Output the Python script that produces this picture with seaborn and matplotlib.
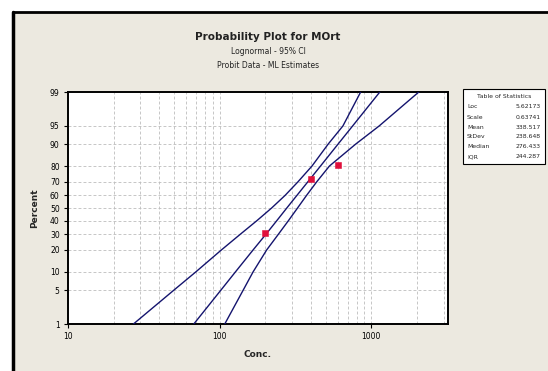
import numpy as np
import matplotlib
matplotlib.use("Agg")
import matplotlib.pyplot as plt
import seaborn as sns
from statistics import NormalDist
from matplotlib.lines import Line2D
from matplotlib.patches import Rectangle

# === Data ===
pct_levels = [1, 5, 10, 20, 30, 40, 50, 60, 70, 80, 90, 95, 99]
fit_conc = [67.5, 102, 127, 166, 202, 238, 277, 323, 381, 462, 603, 752, 1137]
upper_conc = [27.0, 50.0, 69.6, 102.6, 137, 176, 220, 270, 328, 406, 519, 649, 850]
lower_conc = [108, 143, 166, 204, 244, 284, 326, 374, 436, 529, 788, 1125, 2054]

obs_conc = [200, 400, 600]
obs_pct = [30.8, 71.7, 80.4]

y_ticks = [1, 5, 10, 20, 30, 40, 50, 60, 70, 80, 90, 95, 99]
x_ticks = [10, 100, 1000]
x_minor = [20, 30, 40, 50, 60, 70, 80, 90, 200, 300, 400, 500, 600, 700, 800, 900, 2000, 3000]

stat_names = ["Loc", "Scale", "Mean", "StDev", "Median", "IQR"]
stat_values = ["5.62173", "0.63741", "338.517", "238.648", "276.433", "244.287"]

# === Probit scale for the percent axis ===
_nd = NormalDist()
_fwd = np.vectorize(lambda v: _nd.inv_cdf(v / 100.0), otypes=[float])
_inv = np.vectorize(lambda v: 100.0 * _nd.cdf(v), otypes=[float])


def probit(p):
    p = np.clip(np.asarray(p, dtype=float), 1e-6, 100 - 1e-6)
    return _fwd(p)


def inv_probit(z):
    z = np.clip(np.asarray(z, dtype=float), -30, 30)
    return _inv(z)


sns.set_theme(style="ticks")
plt.rcParams["font.family"] = ["DejaVu Sans"]

bg = "#ECE9E0"
line_col = "#14146e"
pt_col = "#e0103c"
grid_col = "#bdbdbd"

fig = plt.figure(figsize=(5.48, 3.71), dpi=100)
fig.patch.set_facecolor("white")

# beige panel with dark border on top and left
fig.patches.append(Rectangle((12 / 548, 0), 1, 1 - 12 / 371, transform=fig.transFigure,
                             facecolor=bg, edgecolor="none", zorder=-10))
fig.add_artist(Line2D([12.5 / 548, 1], [1 - 12 / 371, 1 - 12 / 371], transform=fig.transFigure,
                      color="black", lw=2.0))
fig.add_artist(Line2D([12.5 / 548, 12.5 / 548], [0, 1 - 12 / 371], transform=fig.transFigure,
                      color="black", lw=2.5))

ax = fig.add_axes([68 / 548, 1 - 324 / 371, 380 / 548, 232 / 371])
ax.set_facecolor("white")
ax.set_xscale("log")
ax.set_yscale("function", functions=(probit, inv_probit))
ax.set_xlim(10, 3200)
ax.set_ylim(1, 99)

# grid
for v in x_minor + x_ticks:
    ax.axvline(v, color=grid_col, lw=0.6, ls=(0, (3.5, 2.5)), zorder=0)
for v in y_ticks[1:-1]:
    ax.axhline(v, color=grid_col, lw=0.6, ls=(0, (3.5, 2.5)), zorder=0)

# fitted line and confidence bounds
for series in [upper_conc, fit_conc, lower_conc]:
    sns.lineplot(x=series, y=pct_levels, ax=ax, color=line_col, lw=1.0,
                 estimator=None, sort=False, zorder=3)

sns.scatterplot(x=obs_conc, y=obs_pct, ax=ax, color=pt_col, marker="s", s=13,
                edgecolor=pt_col, linewidth=0.4, zorder=4)

ax.set_xticks(x_ticks)
ax.set_xticklabels([str(t) for t in x_ticks])
ax.xaxis.set_minor_locator(matplotlib.ticker.FixedLocator(x_minor))
ax.xaxis.set_minor_formatter(matplotlib.ticker.NullFormatter())
ax.tick_params(axis="x", which="minor", length=0)
ax.set_yticks(y_ticks)
ax.set_yticklabels([str(t) for t in y_ticks])
ax.yaxis.set_minor_locator(matplotlib.ticker.NullLocator())
ax.tick_params(axis="both", which="major", length=3, width=0.8, pad=3,
               labelsize=5.5, colors="black", direction="out")

for s in ax.spines.values():
    s.set_visible(True)
    s.set_color("black")
    s.set_linewidth(1.4)

ax.set_xlabel("Conc.", fontsize=6.5, fontweight="bold", labelpad=6)
ax.set_ylabel("Percent", fontsize=6.5, fontweight="bold", labelpad=8)

# titles
fig.text(268 / 548, 1 - 37 / 371, "Probability Plot for MOrt", ha="center", va="center",
         fontsize=7.5, fontweight="bold", color="#222222")
fig.text(268 / 548, 1 - 51 / 371, "Lognormal - 95% CI", ha="center", va="center",
         fontsize=5.5, color="#222222")
fig.text(268 / 548, 1 - 65 / 371, "Probit Data - ML Estimates", ha="center", va="center",
         fontsize=5.5, color="#222222")

# table of statistics
fig.patches.append(Rectangle((463 / 548, 1 - 164 / 371), 82 / 548, 75 / 371,
                             transform=fig.transFigure, facecolor="white",
                             edgecolor="black", lw=0.8, zorder=5))
fig.text(504 / 548, 1 - 96.5 / 371, "Table of Statistics", ha="center", va="center",
         fontsize=4.4, zorder=6)
for i, (name, val) in enumerate(zip(stat_names, stat_values)):
    yy = 1 - (107 + i * 10) / 371
    fig.text(467 / 548, yy, name, ha="left", va="center", fontsize=4.4, zorder=6)
    fig.text(541 / 548, yy, val, ha="right", va="center", fontsize=4.4, zorder=6)

fig.savefig("out.png", dpi=100, facecolor=fig.get_facecolor())
